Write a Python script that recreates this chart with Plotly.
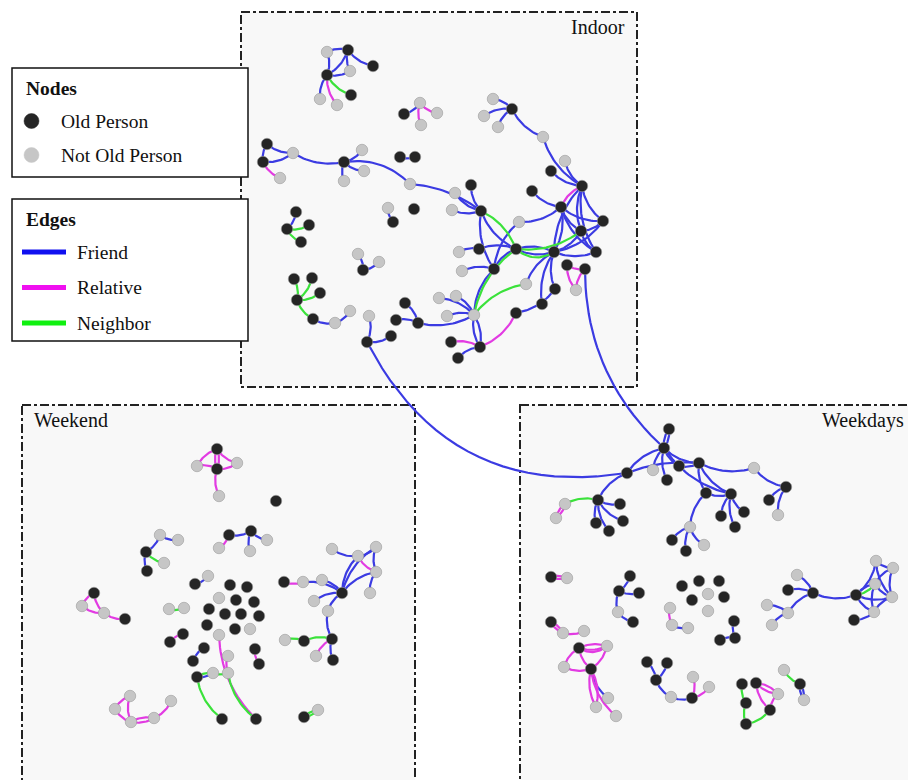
import plotly.graph_objects as go
import numpy as np

# ---------------- data: nodes (id, x, y, old person?) in picture units ----------------
indoor_nodes = [
    ("I1",327,52,0),("I2",348,50,1),("I3",373,66,1),("I4",327,75,1),("I5",350,71,0),
    ("I6",320,99,0),("I7",337,105,0),("I8",351,95,1),("I9",420,103,0),("I10",404,114,1),
    ("I11",437,113,0),("I12",421,125,0),("I13",267,144,1),("I14",263,162,1),("I15",293,153,0),
    ("I16",280,178,0),("I17",344,162,1),("I18",362,150,0),("I19",364,171,0),("I20",344,181,0),
    ("I21",410,184,0),("I22",400,157,1),("I23",415,157,1),("I24",493,99,0),("I25",512,109,1),
    ("I26",484,116,0),("I27",498,127,0),("I28",543,137,0),("I29",565,161,0),("I30",551,171,1),
    ("I31",582,186,1),("I32",471,185,1),("I33",455,193,0),("I34",532,191,1),("I35",452,210,0),
    ("I36",481,211,1),("I37",561,207,1),("I38",519,222,0),("I39",603,221,1),("I40",581,231,1),
    ("I41",459,252,0),("I42",479,249,1),("I43",516,249,1),("I44",554,252,1),("I45",596,252,1),
    ("I46",567,265,1),("I47",585,269,1),("I48",462,271,0),("I49",494,269,1),("I50",576,290,0),
    ("I51",526,284,0),("I52",555,289,1),("I53",542,304,1),("I54",439,298,0),("I55",456,296,0),
    ("I56",447,316,0),("I57",474,315,0),("I58",516,313,1),("I59",451,342,1),("I60",480,347,1),
    ("I61",458,358,1),("I62",296,212,1),("I63",287,229,1),("I64",309,225,1),("I65",301,242,1),
    ("I66",388,208,0),("I67",393,222,1),("I68",414,209,1),("I69",358,254,0),("I70",363,270,1),
    ("I71",379,262,0),("I72",294,279,1),("I73",312,278,1),("I74",320,293,1),("I75",297,300,1),
    ("I76",313,319,1),("I77",335,323,0),("I78",350,311,0),("I79",369,316,0),("I80",367,342,1),
    ("I81",391,336,1),("I82",405,303,1),("I83",396,320,1),("I84",418,323,1),
]
weekend_nodes = [
    ("E1",217,449,1),("E2",217,469,1),("E3",197,466,0),("E4",237,463,0),("E5",219,496,0),
    ("E6",276,501,1),("E7",160,535,0),("E8",178,540,0),("E9",146,552,1),("E10",164,563,0),
    ("E11",147,571,1),("E12",195,584,1),("E13",208,576,0),("E14",219,548,0),("E15",229,535,1),
    ("E16",251,531,1),("E17",267,540,0),("E18",250,551,0),("E19",332,549,0),("E20",358,556,0),
    ("E21",376,547,0),("E22",376,572,0),("E23",370,593,0),("E24",342,593,1),("E25",322,580,0),
    ("E26",303,582,0),("E27",284,582,1),("E28",314,601,0),("E29",328,611,0),("E30",332,639,1),
    ("E31",304,641,1),("E32",285,640,0),("E33",316,656,0),("E34",333,660,1),("E35",304,717,1),
    ("E36",318,710,0),("E37",94,593,1),("E38",82,606,0),("E39",104,613,0),("E40",125,619,1),
    ("E41",130,696,0),("E42",115,709,0),("E43",131,722,0),("E44",154,718,0),("E45",171,701,0),
    ("E46",230,585,1),("E47",247,587,1),("E48",219,598,0),("E49",236,600,1),("E50",254,602,1),
    ("E51",209,609,1),("E52",225,614,1),("E53",241,614,1),("E54",259,616,1),("E55",207,625,1),
    ("E56",235,629,1),("E57",250,629,0),("E58",219,635,0),("E59",255,649,1),("E60",259,664,1),
    ("E61",228,656,0),("E62",228,673,0),("E63",169,609,0),("E64",184,608,0),("E65",183,634,1),
    ("E66",170,642,1),("E67",204,648,1),("E68",193,661,1),("E69",197,677,1),("E70",213,673,0),
    ("E71",222,719,1),("E72",256,719,1),
]
weekdays_nodes = [
    ("D1",669,429,1),("D2",664,448,1),("D3",679,466,1),("D4",699,463,1),("D5",653,470,0),
    ("D6",627,473,1),("D7",667,480,1),("D8",754,468,0),("D9",786,487,1),("D10",769,500,1),
    ("D11",778,515,0),("D12",706,493,1),("D13",731,494,1),("D14",721,516,1),("D15",744,512,1),
    ("D16",735,527,1),("D17",690,527,0),("D18",672,540,1),("D19",686,551,1),("D20",704,545,0),
    ("D21",598,500,1),("D22",620,504,1),("D23",623,521,1),("D24",609,531,1),("D25",596,523,1),
    ("D26",565,504,0),("D27",556,518,0),("D28",551,577,1),("D29",567,578,0),("D30",630,576,1),
    ("D31",619,591,1),("D32",639,593,1),("D33",618,612,0),("D34",633,622,1),("D35",682,586,1),
    ("D36",699,581,1),("D37",719,581,1),("D38",708,594,0),("D39",692,600,1),("D40",724,597,1),
    ("D41",708,611,0),("D42",670,608,0),("D43",672,625,0),("D44",688,628,0),("D45",734,621,1),
    ("D46",735,638,1),("D47",720,640,1),("D48",551,622,1),("D49",563,633,0),("D50",584,631,0),
    ("D51",579,648,1),("D52",607,646,0),("D53",564,667,0),("D54",591,669,1),("D55",608,698,0),
    ("D56",596,707,0),("D57",616,716,0),("D58",647,662,1),("D59",667,663,1),("D60",656,680,1),
    ("D61",671,697,0),("D62",692,698,1),("D63",693,677,0),("D64",709,687,0),("D65",797,575,0),
    ("D66",788,590,1),("D67",813,593,1),("D68",767,605,0),("D69",788,613,0),("D70",772,625,0),
    ("D71",856,595,1),("D72",876,561,0),("D73",893,568,0),("D74",875,584,0),("D75",892,597,0),
    ("D76",874,612,0),("D77",854,620,1),("D78",742,684,1),("D79",756,683,1),("D80",778,694,0),
    ("D81",746,703,1),("D82",770,710,1),("D83",746,724,1),("D84",784,670,0),("D85",800,684,1),
    ("D86",804,700,0),
]

# ---------------- data: edges (source, target, type) ----------------
# F = Friend, R = Relative, N = Neighbor
indoor_edges = [
    ("I4","I1","F"),("I4","I2","F"),("I4","I5","F"),("I4","I6","F"),("I4","I7","R"),("I4","I8","N"),
    ("I2","I1","F"),("I2","I3","F"),("I2","I5","F"),
    ("I10","I9","F"),("I9","I11","R"),("I9","I12","R"),
    ("I13","I14","F"),("I13","I15","F"),("I14","I15","F"),("I14","I16","R"),("I15","I17","F"),
    ("I17","I18","F"),("I17","I19","F"),("I17","I20","F"),("I17","I21","F"),("I21","I36","F"),
    ("I22","I23","F"),
    ("I25","I24","F"),("I25","I26","F"),("I25","I27","F"),("I25","I28","F"),("I28","I31","F"),
    ("I30","I31","F"),("I29","I31","F"),("I31","I37","R"),("I34","I37","F"),
    ("I31","I40","F"),("I31","I39","F"),("I31","I44","F"),("I31","I45","F"),
    ("I35","I36","F"),("I33","I36","F"),("I32","I36","F"),("I36","I43","F"),("I36","I43","N"),
    ("I36","I49","F"),("I38","I49","F"),("I38","I37","F"),
    ("I43","I44","F"),("I43","I44","F"),("I43","I42","F"),("I42","I41","F"),("I43","I49","F"),
    ("I43","I40","N"),("I43","I44","N"),("I43","I57","N"),("I51","I57","N"),
    ("I44","I39","F"),("I44","I40","F"),("I44","I45","F"),("I44","I37","F"),("I44","I52","F"),
    ("I44","I51","F"),("I44","I53","F"),
    ("I37","I40","F"),("I37","I39","F"),("I37","I45","F"),("I40","I39","F"),("I40","I45","F"),
    ("I46","I47","R"),("I46","I50","R"),("I47","I50","R"),
    ("I49","I48","F"),("I49","I57","F"),
    ("I57","I54","F"),("I57","I55","F"),("I57","I56","F"),("I57","I60","F"),("I57","I60","F"),
    ("I84","I57","F"),
    ("I60","I59","R"),("I60","I61","F"),("I60","I58","R"),("I58","I52","F"),
    ("I63","I62","F"),("I63","I64","N"),("I63","I65","N"),
    ("I66","I67","F"),
    ("I70","I69","F"),("I70","I71","F"),
    ("I75","I72","N"),("I75","I73","N"),("I75","I74","N"),("I75","I76","N"),
    ("I76","I77","F"),("I77","I78","F"),
    ("I80","I79","F"),("I80","I81","F"),
    ("I84","I82","F"),("I84","I83","F"),
]
weekend_edges = [
    ("E1","E2","R"),("E1","E2","R"),("E1","E3","R"),("E1","E4","R"),("E2","E4","R"),
    ("E2","E3","R"),("E2","E5","R"),
    ("E9","E7","F"),("E7","E8","F"),("E9","E10","N"),("E9","E11","F"),
    ("E12","E13","F"),
    ("E14","E15","R"),("E15","E16","F"),("E16","E17","F"),("E16","E18","F"),
    ("E19","E20","F"),("E20","E21","F"),("E20","E22","R"),("E21","E22","F"),("E20","E24","F"),
    ("E21","E24","F"),("E22","E24","F"),("E22","E23","F"),("E24","E25","F"),("E24","E26","F"),
    ("E27","E26","R"),
    ("E24","E28","F"),("E24","E29","F"),("E29","E30","F"),("E30","E31","N"),("E31","E32","N"),
    ("E30","E33","R"),("E30","E34","F"),
    ("E35","E36","N"),("E35","E36","N"),
    ("E37","E38","R"),("E37","E39","R"),("E38","E39","R"),("E39","E40","R"),
    ("E41","E42","R"),("E41","E43","R"),("E42","E43","R"),("E43","E44","R"),("E43","E44","R"),
    ("E44","E45","R"),
    ("E58","E72","R"),("E59","E60","R"),("E61","E62","R"),
    ("E63","E64","N"),("E65","E66","R"),("E67","E68","F"),
    ("E69","E70","F"),("E69","E70","N"),("E70","E62","N"),("E69","E71","N"),("E62","E72","N"),
]
weekdays_edges = [
    ("D1","D2","F"),("D1","D2","F"),("D2","D6","F"),("D2","D5","F"),("D2","D7","F"),("D2","D3","F"),
    ("D2","D4","F"),("D2","D13","F"),("D3","D4","F"),("D6","D4","F"),("D6","D21","F"),
    ("D4","D8","F"),("D8","D9","F"),("D9","D10","F"),("D9","D11","F"),
    ("D4","D12","F"),("D4","D13","F"),("D12","D13","F"),("D12","D17","F"),("D13","D14","F"),
    ("D13","D15","F"),("D13","D16","F"),("D17","D18","F"),("D17","D19","F"),("D17","D20","F"),
    ("D21","D22","F"),("D21","D23","F"),("D21","D24","F"),("D21","D25","F"),("D21","D26","N"),
    ("D26","D27","R"),("D26","D27","R"),
    ("D28","D29","R"),("D28","D29","R"),
    ("D31","D30","F"),("D31","D32","F"),("D31","D33","F"),("D33","D34","F"),
    ("D42","D43","R"),("D43","D44","F"),
    ("D45","D46","F"),("D46","D47","F"),
    ("D48","D49","R"),("D48","D49","R"),("D49","D50","R"),
    ("D51","D52","R"),("D51","D52","R"),("D51","D52","R"),("D51","D53","R"),("D51","D54","R"),
    ("D53","D54","R"),("D54","D52","R"),("D54","D55","F"),("D54","D56","R"),("D54","D56","R"),
    ("D54","D57","R"),
    ("D60","D58","F"),("D60","D59","F"),("D60","D61","F"),("D61","D62","F"),("D62","D63","R"),
    ("D62","D64","R"),
    ("D67","D65","F"),("D67","D66","F"),("D67","D69","F"),("D69","D68","F"),("D69","D70","F"),
    ("D67","D71","F"),
    ("D71","D74","N"),("D71","D74","F"),("D71","D72","F"),("D71","D75","F"),("D71","D76","F"),
    ("D72","D73","F"),("D73","D74","F"),("D73","D75","F"),("D72","D75","F"),("D74","D75","F"),
    ("D74","D76","F"),("D75","D76","F"),("D77","D76","F"),
    ("D78","D81","N"),("D81","D83","N"),("D83","D82","N"),("D79","D80","R"),("D79","D80","R"),
    ("D79","D82","R"),("D80","D82","R"),
    ("D84","D85","N"),("D85","D86","F"),("D85","D86","F"),
]
cross_edges = [("I80","D6","F"),("I47","D2","F")]

panel_titles = ["Indoor", "Weekend", "Weekdays"]
node_legend_labels = ["Old Person", "Not Old Person"]
edge_legend_labels = ["Friend", "Relative", "Neighbor"]

# ---------------- styling ----------------
W, H = 908, 780
EDGE_COLORS = {"F": "#3b3be2", "R": "#e23be2", "N": "#3be23b"}
LEGEND_EDGE_COLORS = ["#1010f0", "#f010f0", "#10f010"]
BLACK, GREY = "#252525", "#c6c6c6"
SERIF = "Liberation Serif, Times New Roman, serif"
bend_override = {("I80", "D6"): 0.36, ("I47", "D2"): 0.22, ("I17", "I21"): -0.25,
                 ("I15", "I17"): 0.2, ("I21", "I36"): -0.15, ("D6", "D4"): -0.12}

nodes = indoor_nodes + weekend_nodes + weekdays_nodes
pos = {n[0]: (n[1], n[2]) for n in nodes}

def curve(a, b, bend, n=24):
    (x0, y0), (x1, y1) = pos[a], pos[b]
    dx, dy = x1 - x0, y1 - y0
    mx, my = (x0 + x1) / 2, (y0 + y1) / 2
    cx, cy = mx + bend * (-dy), my + bend * dx
    t = np.linspace(0, 1, n)
    xs = (1 - t) ** 2 * x0 + 2 * (1 - t) * t * cx + t ** 2 * x1
    ys = (1 - t) ** 2 * y0 + 2 * (1 - t) * t * cy + t ** 2 * y1
    return list(xs), list(ys)

all_edges = indoor_edges + weekend_edges + weekdays_edges + cross_edges
seen = {}
segs = {"F": ([], []), "R": ([], []), "N": ([], [])}
for a, b, t in all_edges:
    key = tuple(sorted((a, b)))
    k = seen.get(key, 0)
    seen[key] = k + 1
    if (a, b) in bend_override:
        bend = bend_override[(a, b)]
    else:
        bend = [0.2, -0.2, 0.36, -0.36][k % 4]
    xs, ys = curve(a, b, bend)
    segs[t][0].extend(xs + [None])
    segs[t][1].extend(ys + [None])

fig = go.Figure()
shapes = []
# panels
panels = [(241, 12, 637, 387), (22, 405, 415, 800), (520, 405, 930, 800)]
for (x0, y0, x1, y1) in panels:
    shapes.append(dict(type="rect", xref="x", yref="y", x0=x0, y0=y0, x1=x1, y1=y1,
                       fillcolor="#f8f8f8", line=dict(color="#222", width=2, dash="dashdot"),
                       layer="below"))

for t in ["F", "R", "N"]:
    fig.add_trace(go.Scatter(x=segs[t][0], y=segs[t][1], mode="lines",
                             line=dict(color=EDGE_COLORS[t], width=2.2),
                             hoverinfo="skip", showlegend=False))

nx = [n[1] for n in nodes]
ny = [n[2] for n in nodes]
ncol = [BLACK if n[3] else GREY for n in nodes]
fig.add_trace(go.Scatter(x=nx, y=ny, mode="markers", text=[n[0] for n in nodes],
                         marker=dict(size=11.5, color=ncol, line=dict(color="#9a9a9a", width=0.6)),
                         showlegend=False, hoverinfo="text"))

title_font = dict(family=SERIF, size=20, color="#111")
annotations = [
    dict(x=627, y=27, text=panel_titles[0], xanchor="right"),
    dict(x=32, y=420, text=panel_titles[1], xanchor="left"),
    dict(x=906, y=420, text=panel_titles[2], xanchor="right"),
]
for a in annotations:
    a.update(xref="x", yref="y", yanchor="middle", showarrow=False, font=title_font)

# legend boxes
for (y0, y1) in [(68, 177), (199, 341)]:
    shapes.append(dict(type="rect", xref="x", yref="y", x0=12, y0=y0, x1=248, y1=y1,
                       fillcolor="white", line=dict(color="#111", width=1.5), layer="above"))
legend_font = dict(family=SERIF, size=19.5, color="#111")
annotations.append(dict(x=24, y=88, text="<b>Nodes</b>", xanchor="left"))
annotations.append(dict(x=24, y=219, text="<b>Edges</b>", xanchor="left"))
for i, (lab, col) in enumerate(zip(node_legend_labels, [BLACK, GREY])):
    yy = 121 + i * 34
    shapes.append(dict(type="circle", xref="x", yref="y", x0=24, x1=39, y0=yy - 7.5, y1=yy + 7.5,
                       fillcolor=col, line=dict(color=col, width=0.5), layer="above"))
    annotations.append(dict(x=59, y=yy, text=lab, xanchor="left"))
for i, (lab, col) in enumerate(zip(edge_legend_labels, LEGEND_EDGE_COLORS)):
    yy = 252 + i * 35.5
    shapes.append(dict(type="line", xref="x", yref="y", x0=22, x1=66, y0=yy, y1=yy,
                       line=dict(color=col, width=5), layer="above"))
    annotations.append(dict(x=75, y=yy, text=lab, xanchor="left"))
for a in annotations[3:]:
    a.update(xref="x", yref="y", yanchor="middle", showarrow=False, font=legend_font)

fig.update_layout(
    width=W, height=H, margin=dict(l=0, r=0, t=0, b=0),
    paper_bgcolor="white", plot_bgcolor="white",
    xaxis=dict(range=[0, W], visible=False, fixedrange=True),
    yaxis=dict(range=[H, 0], visible=False, fixedrange=True),
    shapes=shapes, annotations=annotations, showlegend=False,
)
fig.write_html("out.html", config={"displayModeBar": False},
               post_script="document.body.style.margin='0px';document.body.style.overflow='hidden';")
